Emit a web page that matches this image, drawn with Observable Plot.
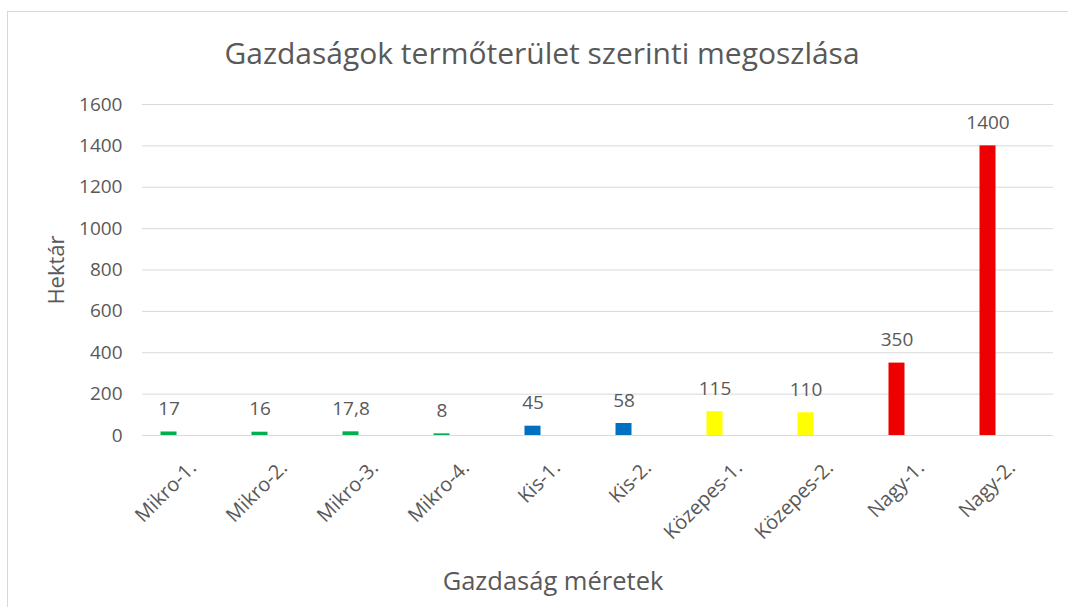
<!DOCTYPE html>
<html><head><meta charset="utf-8">
<script src="https://cdn.jsdelivr.net/npm/d3@7"></script>
<script src="https://cdn.jsdelivr.net/npm/@observablehq/plot@0.6"></script>
<style>
body{margin:0;background:#fff;}
#wrap{position:relative;width:1068px;height:607px;overflow:hidden;font-family:"Open Sans",sans-serif;color:#595959;background:#fff;}
#frame{position:absolute;left:7px;top:11px;width:1100px;height:700px;border:1px solid #d9d9d9;}
#chart{position:absolute;left:0;top:0;}
.t{position:absolute;white-space:nowrap;transform:translate(-50%,-50%);}
#title{left:542px;top:52px;font-size:30px;}
#xt{left:553px;top:580px;font-size:25.5px;}
#yt{left:55px;top:270px;font-size:22px;transform:translate(-50%,-50%) rotate(-90deg);}
</style></head>
<body>
<div id="wrap">
<div id="frame"></div>
<div id="chart"></div>
<div class="t" id="title">Gazdaságok termőterület szerinti megoszlása</div>
<div class="t" id="xt">Gazdaság méretek</div>
<div class="t" id="yt">Hektár</div>
</div>
<script>
const categories = ["Mikro-1.","Mikro-2.","Mikro-3.","Mikro-4.","Kis-1.","Kis-2.","Közepes-1.","Közepes-2.","Nagy-1.","Nagy-2."];
const values = [17,16,17.8,8,45,58,115,110,350,1400];
const valueLabels = ["17","16","17,8","8","45","58","115","110","350","1400"];
const groups = ["Mikro","Mikro","Mikro","Mikro","Kis","Kis","Közepes","Közepes","Nagy","Nagy"];
const groupNames = ["Mikro","Kis","Közepes","Nagy"];
const groupColors = ["#00b050","#0070c0","#ffff00","#ee0000"];
const yTicks = [0,200,400,600,800,1000,1200,1400,1600];

const data = categories.map((c,i)=>({cat:c, v:values[i], lab:valueLabels[i], g:groups[i]}));

const chart = Plot.plot({
  width:1068, height:607,
  marginLeft:142, marginRight:15, marginTop:104, marginBottom:172,
  style:{fontFamily:'"Open Sans",sans-serif', fontSize:"19px", color:"#595959", background:"transparent"},
  x:{domain:categories, range:[122.5,1032.5], padding:0},
  y:{domain:[0,1600]},
  color:{domain:groupNames, range:groupColors},
  marks:[
    Plot.gridY(yTicks,{stroke:"#d9d9d9", strokeOpacity:1, strokeWidth:1}),
    Plot.barY(data,{x:"cat", y:"v", fill:"g", insetLeft:37.5, insetRight:37.5}),
    Plot.text(data,{x:"cat", y:"v", text:"lab", dy:-23, fill:"#595959", fontSize:19}),
    Plot.axisY(yTicks,{tickSize:0, tickPadding:20, label:null, fill:"#595959", tickFormat:d=>String(d)}),
    Plot.axisX({tickSize:0, tickRotate:-45, tickPadding:8, label:null, fill:"#595959", fontSize:20, dx:24, dy:21})
  ]
});
document.getElementById("chart").appendChild(chart);
</script>
</body></html>
